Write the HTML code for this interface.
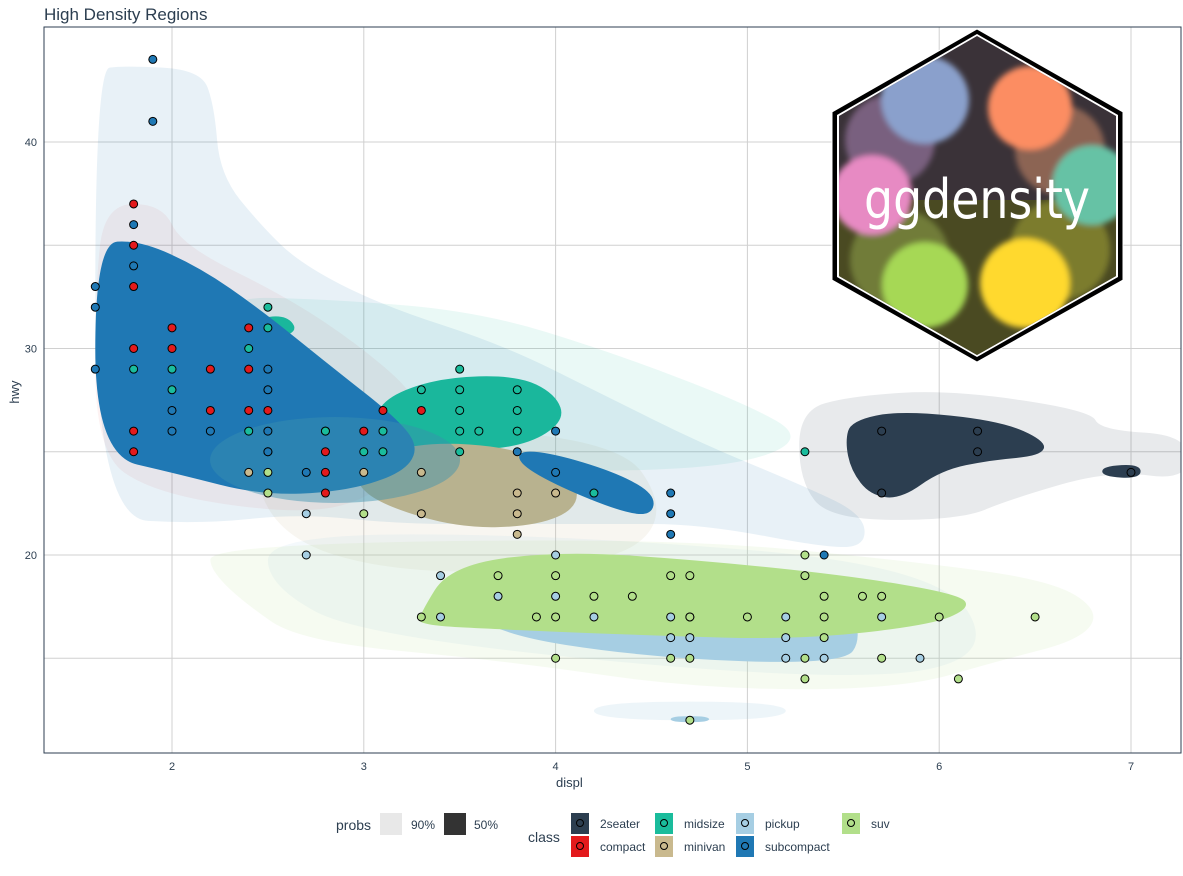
<!DOCTYPE html>
<html><head><meta charset="utf-8"><style>
body{margin:0;background:#fff;font-family:"Liberation Sans",Arial,sans-serif}
svg text{font-family:"Liberation Sans",Arial,sans-serif}
</style></head><body>
<svg id="chart" width="1183" height="871" viewBox="0 0 1183 871" xmlns="http://www.w3.org/2000/svg">
<defs>
<clipPath id="panelClip"><rect x="44" y="27" width="1137" height="726"/></clipPath>
<clipPath id="hexClip"><polygon points="977,36 1116,116 1116,276 977,355 839,276 839,116"/></clipPath>
<filter id="blur" x="-20%" y="-20%" width="140%" height="140%"><feGaussianBlur stdDeviation="3"/></filter>
</defs>
<text x="44" y="20" font-size="17" fill="#2c3e50">High Density Regions</text>
<g id="grid"></g>
<g id="regions" clip-path="url(#panelClip)"></g>
<g id="points"></g>
<g>
<polygon points="977,29 1123,112 1123,280 977,362 832,280 832,112" fill="#000" stroke="#fff" stroke-width="1"/>
<polygon points="977,34 1118,115 1118,277 977,357 837,277 837,115" fill="#fff"/>
<g clip-path="url(#hexClip)">
<rect x="830" y="30" width="300" height="335" fill="#3a3238"/>
<rect x="830" y="200" width="300" height="170" fill="#4a4a22"/>
<g filter="url(#blur)">
<circle cx="890" cy="140" r="45" fill="#8a6a90" opacity="0.8"/>
<circle cx="1060" cy="150" r="45" fill="#a0705a" opacity="0.8"/>
<circle cx="900" cy="260" r="50" fill="#7a8a40" opacity="0.8"/>
<circle cx="1060" cy="250" r="50" fill="#8a8a30" opacity="0.8"/>
<circle cx="925" cy="100" r="44" fill="#8aa0cc"/>
<circle cx="1030" cy="108" r="42" fill="#fc8d62"/>
<circle cx="872" cy="195" r="40" fill="#e78ac3"/>
<circle cx="1092" cy="185" r="40" fill="#66c2a5"/>
<circle cx="925" cy="285" r="43" fill="#a6d854"/>
<circle cx="1025" cy="283" r="45" fill="#ffd92f"/>
</g>
</g>
<text x="977" y="218" font-size="54" fill="#fff" text-anchor="middle" textLength="226" lengthAdjust="spacingAndGlyphs" style="font-family:'DejaVu Sans Condensed','Liberation Sans Narrow',sans-serif;font-weight:300">ggdensity</text>
</g>
<rect x="44" y="27" width="1137" height="726" fill="none" stroke="#2c3e50" stroke-width="1"/>
<g id="axes"></g>
<text x="556" y="787" font-size="13" fill="#2c3e50">displ</text>
<text transform="translate(19,392) rotate(-90)" text-anchor="middle" font-size="13" fill="#2c3e50">hwy</text>
<g>
<text x="336" y="830" font-size="14" fill="#2c3e50">probs</text>
<rect x="380" y="813" width="22" height="22" fill="#e8e8e8"/>
<text x="411" y="829" font-size="12" fill="#2c3e50">90%</text>
<rect x="444" y="813" width="22" height="22" fill="#333"/>
<text x="474" y="829" font-size="12" fill="#2c3e50">50%</text>
<text x="528" y="842" font-size="14" fill="#2c3e50">class</text>
<g id="classLegend"></g>
</g>
</svg>
<script>
const X0=44,X1=1181,Y0=27,Y1=753;
function sx(v){return 172+(v-2)*191.8;}
function sy(v){return 555-(v-20)*20.65;}
const xTicks=[2,3,4,5,6,7];
const yTicks=[20,30,40];
const yGrid=[15,20,25,30,35,40];
const classNames=["2seater","compact","midsize","minivan","pickup","subcompact","suv"];
const classColors=["#2c3e50","#e31a1c","#1abc9c","#c9b98e","#a6cee3","#1f78b4","#b2df8a"];
const ptDispl=[5.7,5.7,6.2,6.2,7,
1.8,1.8,1.8,1.8,1.8,1.8,2,2,2.2,2.2,2.4,2.4,2.4,2.5,2.5,2.8,2.8,2.8,2.8,3,3.1,3.3,
1.8,2,2,2.4,2.4,2.5,2.5,2.8,3,3.1,3.1,3.3,3.5,3.5,3.5,3.5,3.5,3.6,3.8,3.8,3.8,4.2,5.3,
2.4,3,3.3,3.3,3.8,3.8,3.8,4,
2.7,2.7,3.4,3.4,3.7,4,4,4.2,4.6,4.6,4.7,4.7,5.2,5.2,5.2,5.4,5.7,5.9,
1.9,1.9,1.8,1.8,1.6,1.6,1.6,2,2,2.2,2.5,2.5,2.5,2.5,2.7,3.8,4,4,4.6,4.6,4.6,5.4,
2.5,2.5,3,3.3,3.7,3.9,4,4,4,4.2,4.4,4.6,4.6,4.7,4.7,4.7,4.7,5,5.3,5.3,5.3,5.3,5.4,5.4,5.4,5.6,5.7,5.7,6,6.1,6.5];
const ptHwy=[26,23,26,25,24,
37,35,33,30,26,25,31,30,29,27,31,29,27,27,25,26,25,24,23,26,27,27,
29,29,28,30,26,32,31,26,25,26,25,28,29,28,27,26,25,26,28,27,26,23,25,
24,24,24,22,23,22,21,23,
22,20,19,17,18,18,20,17,17,16,17,16,17,16,15,15,17,15,
44,41,36,34,33,32,29,27,26,26,29,28,26,25,24,25,26,24,23,22,21,20,
24,23,22,17,19,17,19,17,15,18,18,19,15,19,17,15,12,17,20,19,15,14,18,17,16,18,18,15,17,14,17];
const ptClass=[0,0,0,0,0,
1,1,1,1,1,1,1,1,1,1,1,1,1,1,1,1,1,1,1,1,1,1,
2,2,2,2,2,2,2,2,2,2,2,2,2,2,2,2,2,2,2,2,2,2,2,
3,3,3,3,3,3,3,3,
4,4,4,4,4,4,4,4,4,4,4,4,4,4,4,4,4,4,
5,5,5,5,5,5,5,5,5,5,5,5,5,5,5,5,5,5,5,5,5,5,
6,6,6,6,6,6,6,6,6,6,6,6,6,6,6,6,6,6,6,6,6,6,6,6,6,6,6,6,6,6,6];
const reg2seater90=[[5.27,27.0],[5.54,27.7],[6.06,28.0],[6.79,27.0],[6.84,26.05],[7.3,25.8],[7.3,23.6],[6.89,24.1],[6.37,22.7],[6.11,21.7],[5.43,21.7],[5.27,23.6]];
const regCompact90=[[1.65,37.0],[1.95,37.0],[2.05,35],[2.6,32.5],[3.0,30],[3.3,27.5],[3.3,25],[3.0,22.5],[2.6,22.0],[1.9,23],[1.6,25],[1.6,33]];
const regMidsize90=[[2.2,32.5],[2.8,32.4],[3.6,31.8],[4.3,29.8],[5.0,27.3],[5.3,25.7],[5.0,24.4],[4.3,24.0],[3.5,24.3],[2.8,26],[2.3,28]];
const regMinivan90=[[2.4,26.2],[4.3,26],[4.6,22],[4.3,19.5],[3.2,19],[2.5,21]];
const regPickup90=[[2.5,21],[4,21],[6,19.5],[6.3,15],[5.5,13.8],[3,16],[2.5,18.5]];
const regPickup90b=[[4.2,12.9],[5.2,12.9],[5.2,12.0],[4.2,12.0]];
const regSub90=[[1.6,43.5],[1.75,43.7],[2.15,43.5],[2.22,41.8],[2.25,38.4],[2.46,36.0],[2.67,34.1],[3.09,32.1],[3.72,30.2],[4.24,27.8],[4.76,25.4],[5.28,23.4],[5.6,22.0],[5.62,20.5],[5.44,20.3],[4.76,21.5],[4.24,21.5],[3.72,21.5],[3.19,21.5],[2.67,22.0],[2.15,21.5],[1.6,21.8]];
const regSuv90=[[2.2,20.25],[3.19,20.7],[4.76,20.7],[5.8,19.75],[6.58,18.8],[6.84,17.3],[6.74,15.9],[6.32,14.9],[5.8,13.5],[4.76,13.5],[3.72,14.9],[2.67,15.8],[2.36,17.8],[2.2,19.3]];
const reg2seater50=[[5.54,26.5],[5.8,27.0],[6.32,26.5],[6.56,25.5],[6.53,24.8],[6.27,24.6],[6.01,24.1],[5.8,22.7],[5.64,22.9],[5.54,24.1],[5.51,25.5]];
const reg2seater50b=[[6.85,24.3],[7.05,24.4],[7.05,23.7],[6.85,23.8]];
const regMidsize50=[[3.1,27.6],[3.4,28.6],[3.8,28.7],[4.0,27.8],[4.05,26.5],[3.85,25.3],[3.5,25.0],[3.2,25.3],[3.05,26.2]];
const regMidsize50b=[[2.45,31.5],[2.6,31.6],[2.66,30.8],[2.5,30.4]];
const regMinivan50=[[3.0,24.5],[3.3,25.5],[3.8,25.2],[4.1,23.8],[4.12,22.3],[3.9,21.4],[3.5,21.3],[3.1,22.4],[2.95,23.5]];
const regPickup50=[[3.5,18.8],[5.5,18.5],[5.6,16],[5.5,14.7],[4.5,15.0],[3.6,16.3]];
const regPickup50b=[[4.6,12.2],[4.8,12.2],[4.8,11.9],[4.6,11.9]];
const regSub50=[[1.6,35.1],[1.83,35.25],[2.15,33.9],[2.46,31.9],[2.82,29.2],[3.19,26.5],[3.29,25.1],[3.19,23.9],[2.88,23.05],[2.46,22.9],[2.04,23.9],[1.6,24.85]];
const regSub50b=[[3.81,25.1],[4.02,24.85],[4.34,23.9],[4.52,22.9],[4.5,21.9],[4.34,22.1],[4.02,23.3],[3.81,24.4]];
const regSuv50=[[3.29,17.1],[3.45,19.5],[4.02,20.2],[4.75,19.75],[5.53,19.0],[6.11,18.1],[6.16,17.4],[5.95,16.6],[5.27,15.9],[4.49,16.1],[3.71,16.4],[3.29,16.6]];
const NS='http://www.w3.org/2000/svg';
function mk(tag,attrs,parent){const e=document.createElementNS(NS,tag);for(const k in attrs)e.setAttribute(k,attrs[k]);parent.appendChild(e);return e;}
function smooth(pts){const p=pts.map(d=>[sx(d[0]),sy(d[1])]);const n=p.length;let s='';
 for(let i=0;i<n;i++){const a=p[i],b=p[(i+1)%n];const m=[(a[0]+b[0])/2,(a[1]+b[1])/2];
  if(i===0){const z=p[n-1];s+='M'+((z[0]+a[0])/2)+','+((z[1]+a[1])/2);}
  s+=' Q'+a[0]+','+a[1]+' '+m[0]+','+m[1];}
 return s+'Z';}
const grid=document.getElementById('grid');
xTicks.forEach(v=>{const l=mk('line',{x1:sx(v),x2:sx(v),y1:Y0,y2:Y1,stroke:'#d0d0d0','stroke-width':1},grid);

});
yGrid.forEach(v=>{const l=mk('line',{x1:X0,x2:X1,y1:sy(v),y2:sy(v),stroke:'#d0d0d0','stroke-width':1},grid);

});
const regs=document.getElementById('regions');
function region(pts,color,op,name){const e=mk('path',{d:smooth(pts),fill:color,'fill-opacity':op},regs);

}
region(reg2seater90,'#2c3e50',0.11,'region-2seater-90');
region(regCompact90,'#e31a1c',0.06,'region-compact-90');
region(regMidsize90,'#1abc9c',0.09,'region-midsize-90');
region(regMinivan90,'#c9b98e',0.12,'region-minivan-90');
region(regPickup90,'#a6cee3',0.12,'region-pickup-90');
region(regPickup90b,'#a6cee3',0.2,'region-pickup-90b');
region(regSub90,'#1f78b4',0.1,'region-subcompact-90');
region(regSuv90,'#b2df8a',0.12,'region-suv-90');
region(reg2seater50,'#2c3e50',1,'region-2seater-50');
region(reg2seater50b,'#2c3e50',1,'region-2seater-50b');
region(regMidsize50,'#1ab79c',1,'region-midsize-50');
region(regMidsize50b,'#1ab79c',1,'region-midsize-50b');
region(regMinivan50,'#b8b28f',1,'region-minivan-50');
region(regPickup50,'#a6cee3',1,'region-pickup-50');
region(regPickup50b,'#a6cee3',1,'region-pickup-50b');
region(regSub50,'#1f78b4',1,'region-subcompact-50');
region(regSub50b,'#1f78b4',1,'region-subcompact-50b');
region(regSuv50,'#b2df8a',1,'region-suv-50');
const ell=mk('ellipse',{cx:sx(2.85),cy:sy(24.6),rx:125,ry:43,fill:'#3a90b0','fill-opacity':0.45},regs);


const pg=document.getElementById('points');
ptDispl.forEach((d,i)=>{const c=mk('circle',{cx:sx(d),cy:sy(ptHwy[i]),r:4,fill:classColors[ptClass[i]],stroke:'#000','stroke-width':1},pg);

});
const ax=document.getElementById('axes');
xTicks.forEach(v=>{const t=mk('text',{x:sx(v),y:770,'font-size':11,fill:'#2c3e50','text-anchor':'middle'},ax);t.textContent=v;

});
yTicks.forEach(v=>{const t=mk('text',{x:37,y:sy(v)+4,'font-size':11,fill:'#2c3e50','text-anchor':'end'},ax);t.textContent=v;

});
const lg=document.getElementById('classLegend');
const colX=[571,655,736,842];
classNames.forEach((n,i)=>{const col=Math.floor(i/2),row=i%2;const x=colX[col],y=814+row*23;
const r=mk('rect',{x:x,y:y-1,width:18,height:21,fill:classColors[i]},lg);


mk('circle',{cx:x+9,cy:y+9,r:3.5,fill:'none',stroke:'#000','stroke-width':1},lg);
const t=mk('text',{x:x+29,y:y+14,'font-size':12,fill:'#2c3e50'},lg);t.textContent=n;

});
</script>
</body></html>
